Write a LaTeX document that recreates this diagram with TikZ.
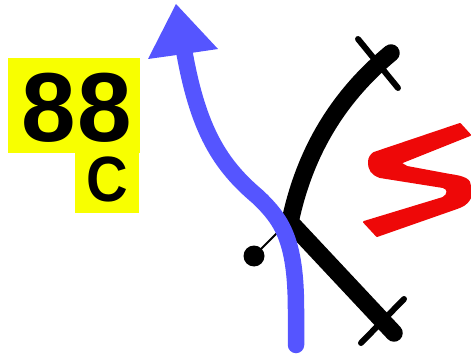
\documentclass[tikz,border=0pt]{standalone}
\usepackage{fontspec}
\setmainfont{Liberation Sans}
\definecolor{bluearrow}{HTML}{5555FF}
\definecolor{signyellow}{HTML}{F8FF00}
\definecolor{sred}{HTML}{EE0808}
\tikzset{
  track/.style={line width=17.5pt,line cap=round,black},
  tickmark/.style={line width=6pt,line cap=round,black},
  label/.style={inner sep=0pt,anchor=base,font=\bfseries},
}
\begin{document}
\begin{tikzpicture}[x=1pt,y=-1pt]
\useasboundingbox (0,0) rectangle (471,358);
\fill[signyellow] (8,58) rectangle (140,153);
\fill[signyellow] (75,153) rectangle (139,213);
\node[label] (num) at (76.7,142) {\fontsize{98}{98}\selectfont\addfontfeature{LetterSpace=2}88};
\node[label,xscale=.9] (cc) at (107,202) {\fontsize{64}{64}\selectfont C};
% S
\draw[sred,fill=sred,line width=2pt,line join=round] (460,124) -- (470,135) -- (400,163) -- (407,167) -- (450,175) .. controls (465,177) and (470,180) .. (470,186) -- (470,198) .. controls (466,205) and (462,206) .. (457,208) -- (377,236) -- (364,222) -- (443,198) .. controls (449,195) and (449,188) .. (443,187) -- (380,177) .. controls (372,174) and (369,170) .. (369,162) .. controls (369,158) and (371,155) .. (374,153) -- cycle;
% black tracks
\draw[tickmark] (358,39) -- (398,88);
\draw[tickmark] (404,299) -- (361,343);
\draw[track] (391,53) .. controls (340,95) and (305,150) .. (290,222) -- (394,333);
\fill[black] (254,256) circle (10.5);
\draw[black,line width=2pt] (254,256) -- (277,233);
% blue
\draw[bluearrow,line width=16.5pt,line cap=round] (296,345) -- (296,310) .. controls (296,240) and (282,220) .. (258,197) .. controls (220,165) and (198,130) .. (184,50);
\fill[bluearrow] (176,4) -- (148,59) -- (184,54) -- (218,49) -- cycle;
\end{tikzpicture}
\end{document}
